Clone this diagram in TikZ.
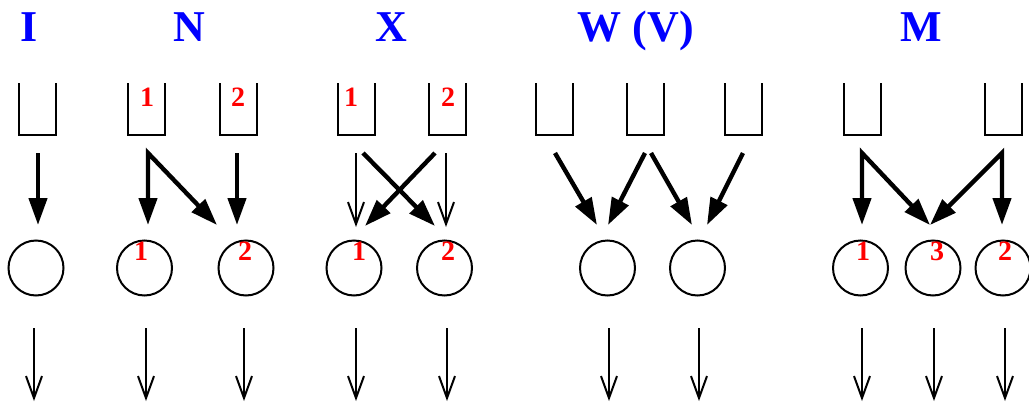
\documentclass[tikz,border=0pt]{standalone}
\usepackage{fontspec}
\setmainfont{Liberation Serif}
\usetikzlibrary{arrows.meta}
\begin{document}
\begin{tikzpicture}[x=1pt,y=-1pt,
  title/.style={text=blue, font=\bfseries\fontsize{44}{44}\selectfont, anchor=base, inner sep=0pt},
  num/.style={text=red, font=\bfseries\fontsize{28}{28}\selectfont, anchor=base, inner sep=0pt},
  bucket/.style={minimum width=37pt, minimum height=52pt, inner sep=0pt, outer sep=0pt},
  state/.style={circle, draw, line width=2pt, minimum size=55pt, inner sep=0pt},
  heavy/.style={line width=4.4pt, -{Triangle[length=27pt,width=18pt]}},
  heavytwo/.style={line width=4.4pt, {Triangle[length=27pt,width=18pt]}-{Triangle[length=27pt,width=18pt]}},
  light/.style={line width=2pt, -{Straight Barb[length=22pt,width=16pt]}},
]
\useasboundingbox (0,0) rectangle (1029,402);

% titles
\node[title] (tI) at (29,41) {I};
\node[title] (tN) at (189,41) {N};
\node[title] (tX) at (391,41) {X};
\node[title] (tW) at (636,41) {W (V)};
\node[title] (tM) at (921,41) {M};

% buckets
\node[bucket] (bI) at (37.5,109) {};
\node[bucket] (bN1) at (146.5,109) {};
\node[bucket] (bN2) at (238,109) {};
\node[bucket] (bX1) at (356,109) {};
\node[bucket] (bX2) at (447,109) {};
\node[bucket] (bW1) at (554.5,109) {};
\node[bucket] (bW2) at (645.5,109) {};
\node[bucket] (bW3) at (743,109) {};
\node[bucket] (bM1) at (862,109) {};
\node[bucket] (bM2) at (1003,109) {};
\foreach \b in {bI,bN1,bN2,bX1,bX2,bW1,bW2,bW3,bM1,bM2}
  \draw[line width=2pt] (\b.north west) -- (\b.south west) -- (\b.south east) -- (\b.north east);

% circles
\node[state] (cI) at (36,268) {};
\node[state] (cN1) at (144.5,268) {};
\node[state] (cN2) at (246,268) {};
\node[state] (cX1) at (354,268) {};
\node[state] (cX2) at (444.5,268) {};
\node[state] (cW1) at (607.5,268) {};
\node[state] (cW2) at (697.5,268) {};
\node[state] (cM1) at (860.5,268) {};
\node[state] (cM3) at (933,268) {};
\node[state] (cM2) at (1003,268) {};

% red labels
\node[num] (lbN1) at (147,106) {1};
\node[num] (lbN2) at (238,106) {2};
\node[num] (lbX1) at (351,106) {1};
\node[num] (lbX2) at (448,106) {2};
\node[num] (lcN1) at (141,260) {1};
\node[num] (lcN2) at (245,260) {2};
\node[num] (lcX1) at (359,260) {1};
\node[num] (lcX2) at (448,260) {2};
\node[num] (lcM1) at (863,260) {1};
\node[num] (lcM3) at (937,260) {3};
\node[num] (lcM2) at (1005,260) {2};

% arrow end points
\coordinate (iS) at (38,153);   \coordinate (iE) at (38,225);
\coordinate (nS) at (148,153);  \coordinate (nE1) at (148,225); \coordinate (nE2) at (217,225);
\coordinate (nS2) at (237,153); \coordinate (nE3) at (237,225);
\coordinate (xS1) at (356,153); \coordinate (xE1) at (356,227);
\coordinate (xS2) at (446,153); \coordinate (xE2) at (446,227);
\coordinate (xS3) at (363,153); \coordinate (xE3) at (435,226);
\coordinate (xS4) at (435,153); \coordinate (xE4) at (365,226);
\coordinate (wS1) at (555,153); \coordinate (wE1) at (597,225);
\coordinate (wS2) at (645,153); \coordinate (wE2) at (608,225);
\coordinate (wS3) at (651,153); \coordinate (wE3) at (692,225);
\coordinate (wS4) at (743,153); \coordinate (wE4) at (707,225);
\coordinate (mS1) at (862,153); \coordinate (mE1) at (862,225); \coordinate (mE3) at (930,225);
\coordinate (mS2) at (1002,153); \coordinate (mE2) at (1002,225);

% input arrows
\draw[heavy] (iS) -- (iE);
\draw[heavytwo] (nE1) -- (nS) -- (nE2);
\draw[heavy] (nS2) -- (nE3);
\draw[light] (xS1) -- (xE1);
\draw[light] (xS2) -- (xE2);
\draw[heavy] (xS3) -- (xE3);
\draw[heavy] (xS4) -- (xE4);
\draw[heavy] (wS1) -- (wE1);
\draw[heavy] (wS2) -- (wE2);
\draw[heavy] (wS3) -- (wE3);
\draw[heavy] (wS4) -- (wE4);
\draw[heavytwo] (mE1) -- (mS1) -- (mE3);
\draw[heavytwo] (mE3) -- (mS2) -- (mE2);

% output arrows
\foreach \n/\x in {oI/34,oN1/146,oN2/244,oX1/356,oX2/447,oW1/609,oW2/699,oM1/862,oM3/934,oM2/1005}{
  \coordinate (\n s) at (\x,328);
  \coordinate (\n e) at (\x,401);
  \draw[light] (\n s) -- (\n e);
}
\end{tikzpicture}
\end{document}
